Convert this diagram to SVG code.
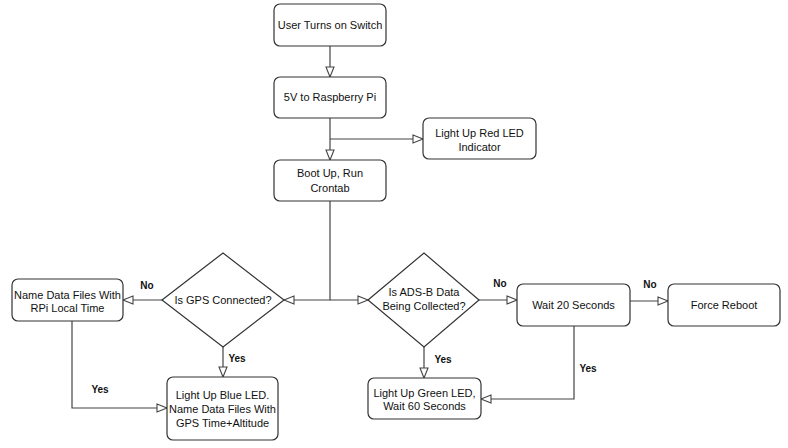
<svg xmlns="http://www.w3.org/2000/svg" width="788" height="448" viewBox="0 0 788 448">
<style>
.box{fill:#fff;stroke:#333;stroke-width:1.2}
.t{font-family:"Liberation Sans",Arial,sans-serif;font-size:11px;fill:#111;text-anchor:middle}
.lbl{font-family:"Liberation Sans",Arial,sans-serif;font-size:10px;font-weight:bold;fill:#111;text-anchor:middle}
.c{fill:none;stroke:#444;stroke-width:1.2}
</style>
<defs>
<marker id="ah" markerUnits="userSpaceOnUse" markerWidth="12" markerHeight="10" refX="11" refY="5" orient="auto" overflow="visible">
<path d="M1,1 L11,5 L1,9 Z" fill="#fff" stroke="#444" stroke-width="1.1"/>
</marker>
</defs>
<rect width="788" height="448" fill="#fff"/>
<g id="connectors">
<path class="c" d="M330,46 V77" marker-end="url(#ah)"/>
<path class="c" d="M330,118 V160" marker-end="url(#ah)"/>
<path class="c" d="M330,139 H423" marker-end="url(#ah)"/>
<path class="c" d="M330,201 V300 H284" marker-end="url(#ah)"/>
<path class="c" d="M330,300 H368" marker-end="url(#ah)"/>
<path class="c" d="M162,300 H123" marker-end="url(#ah)"/>
<path class="c" d="M223,347 V377" marker-end="url(#ah)"/>
<path class="c" d="M72,321 V408 H167" marker-end="url(#ah)"/>
<path class="c" d="M479,300 H517" marker-end="url(#ah)"/>
<path class="c" d="M424,347 V378" marker-end="url(#ah)"/>
<path class="c" d="M574,326 V399 H481" marker-end="url(#ah)"/>
<path class="c" d="M630,301 H668" marker-end="url(#ah)"/>
<text class="lbl" x="147" y="289">No</text>
<text class="lbl" x="237" y="362">Yes</text>
<text class="lbl" x="100" y="393">Yes</text>
<text class="lbl" x="500" y="287">No</text>
<text class="lbl" x="443" y="363">Yes</text>
<text class="lbl" x="588" y="372">Yes</text>
<text class="lbl" x="650" y="288">No</text>
</g>
<g id="switch">
<rect class="box" x="274" y="4" width="112" height="42" rx="6"/>
<text class="t" x="330" y="29">User Turns on Switch</text>
</g>
<g id="power">
<rect class="box" x="274" y="77" width="112" height="41" rx="6"/>
<text class="t" x="330" y="101">5V to Raspberry Pi</text>
</g>
<g id="redled">
<rect class="box" x="423" y="118" width="113" height="41" rx="6"/>
<text class="t" x="479.5" y="137">Light Up Red LED</text>
<text class="t" x="479.5" y="151">Indicator</text>
</g>
<g id="boot">
<rect class="box" x="274" y="160" width="112" height="41" rx="6"/>
<text class="t" x="330" y="177">Boot Up, Run</text>
<text class="t" x="330" y="192">Crontab</text>
</g>
<g id="gps">
<polygon class="box" points="162,300 223,253 284,300 223,347"/>
<text class="t" x="223" y="304">Is GPS Connected?</text>
</g>
<g id="localtime">
<rect class="box" x="12" y="279" width="111" height="42" rx="6"/>
<text class="t" x="67.5" y="299">Name Data Files With</text>
<text class="t" x="67.5" y="312">RPi Local Time</text>
</g>
<g id="blueled">
<rect class="box" x="167" y="377" width="111" height="63" rx="6"/>
<text class="t" x="222.5" y="399">Light Up Blue LED.</text>
<text class="t" x="222.5" y="413">Name Data Files With</text>
<text class="t" x="222.5" y="427">GPS Time+Altitude</text>
</g>
<g id="adsb">
<polygon class="box" points="368,300 424,253 479,300 424,347"/>
<text class="t" x="424" y="296">Is ADS-B Data</text>
<text class="t" x="424" y="310">Being Collected?</text>
</g>
<g id="wait20">
<rect class="box" x="517" y="284" width="113" height="42" rx="6"/>
<text class="t" x="573.5" y="309">Wait 20 Seconds</text>
</g>
<g id="reboot">
<rect class="box" x="668" y="284" width="112" height="42" rx="6"/>
<text class="t" x="724" y="309">Force Reboot</text>
</g>
<g id="greenled">
<rect class="box" x="368" y="378" width="113" height="41" rx="6"/>
<text class="t" x="424.5" y="397">Light Up Green LED,</text>
<text class="t" x="424.5" y="410">Wait 60 Seconds</text>
</g>
</svg>
